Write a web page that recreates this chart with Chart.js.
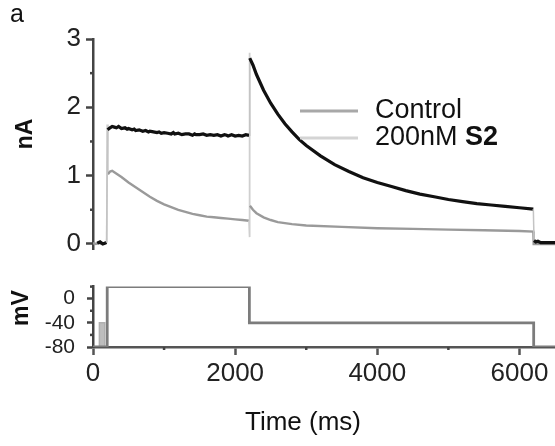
<!DOCTYPE html>
<html>
<head>
<meta charset="utf-8">
<script src="https://cdn.jsdelivr.net/npm/chart.js@4"></script>
<style>
  body { margin: 0; background: #fff; }
  #wrap { position: relative; width: 555px; height: 446px; }
  #top { position: absolute; left: 0; top: 0; }
  #bottom { position: absolute; left: 0; top: 262px; }
</style>
</head>
<body>
<div id="wrap">
  <canvas id="top" width="555" height="270"></canvas>
  <canvas id="bottom" width="555" height="184"></canvas>
</div>
<script>
// current traces (ms, nA)
const controlTime = [60, 100, 140, 190, 205, 240, 270, 300, 330, 360, 400, 450, 480, 500, 550, 580, 600, 650, 700, 740, 780,
  800, 850, 900, 930, 960, 1000, 1050, 1100, 1130, 1150, 1200, 1250, 1300, 1350, 1400, 1430, 1450, 1500, 1550, 1600, 1650, 1700, 1750,
  1800, 1850, 1880, 1900, 1950, 2000, 2050, 2100, 2150, 2195, 2205, 2250, 2300, 2400, 2500, 2600, 2700, 2800, 2900, 3000,
  3200, 3400, 3600, 3800, 4000, 4200, 4400, 4600, 4800, 5000, 5200, 5400, 5600, 5800, 6000, 6195, 6205, 6230, 6260, 6300, 6500];
const controlCurrent = [0.01, 0.03, 0.0, 0.02, 1.67, 1.70, 1.72, 1.71, 1.70, 1.72, 1.69, 1.70, 1.68, 1.69, 1.67, 1.68, 1.66, 1.67, 1.65, 1.66, 1.64,
  1.65, 1.64, 1.63, 1.64, 1.62, 1.63, 1.62, 1.61, 1.63, 1.61, 1.62, 1.60, 1.61, 1.61, 1.59, 1.61, 1.60, 1.60, 1.61, 1.59, 1.60, 1.59, 1.60,
  1.58, 1.60, 1.59, 1.58, 1.60, 1.58, 1.59, 1.58, 1.60, 1.59, 2.72, 2.62, 2.48, 2.25, 2.06, 1.90, 1.76, 1.64, 1.53, 1.44,
  1.29, 1.16, 1.06, 0.97, 0.90, 0.84, 0.78, 0.73, 0.69, 0.65, 0.62, 0.59, 0.57, 0.55, 0.53, 0.51, 0.05, 0.03, 0.04, 0.02, 0.02];

const s2Time = [0, 40, 80, 120, 160, 195, 200, 210, 240, 270, 300, 400, 500, 600, 700, 800, 900, 1000, 1100, 1200,
  1300, 1400, 1500, 1600, 1700, 1800, 1900, 2000, 2100, 2195, 2200, 2203, 2208, 2250, 2300, 2400, 2500, 2600, 2800,
  3000, 3500, 4000, 4500, 5000, 5500, 6000, 6195, 6200, 6500];
const s2Current = [0.01, 0.0, 0.02, 0.0, 0.01, 0.02, 1.75, 1.02, 1.06, 1.07, 1.05, 0.98, 0.90, 0.83, 0.76, 0.69, 0.63, 0.58, 0.54, 0.50,
  0.47, 0.44, 0.42, 0.40, 0.39, 0.38, 0.37, 0.36, 0.35, 0.34, 2.8, 0.1, 0.56, 0.50, 0.45, 0.39, 0.35, 0.32, 0.29,
  0.27, 0.25, 0.23, 0.22, 0.21, 0.20, 0.19, 0.18, 0.0, 0.0];

// voltage protocol (ms, mV)
const stepTime = [0, 200, 200, 2200, 2200, 6200, 6200, 6500];
const stepLevel = [-80, -80, 20, 20, -40, -40, -80, -80];
const prepulseTime = [90, 90, 165, 165];
const prepulseLevel = [-80, -40, -40, -80];

// axes
const timeTicks = [0, 2000, 4000, 6000];
const timeMinor = [1000, 3000, 5000];
const currentTicks = [0, 1, 2, 3];
const currentMinor = [0.5, 1.5, 2.5];
const voltTicks = [-80, -40, 0];
const voltMinor = [-60, -20, 20];

const labels = ['Control', '200nM S2'];

const FONT = '"Liberation Sans", Arial, sans-serif';
Chart.defaults.font.family = FONT;
Chart.defaults.color = '#222';

function pts(xs, ys) {
  return xs.map(function (x, i) { return { x: x, y: ys[i] }; });
}

// fast jumps (capacity transients) look faint in the recording
function jumpColor(light) {
  return function (ctx) {
    return Math.abs(ctx.p1.parsed.y - ctx.p0.parsed.y) > 0.4 ? light : undefined;
  };
}
function jumpWidth(w) {
  return function (ctx) {
    return Math.abs(ctx.p1.parsed.y - ctx.p0.parsed.y) > 0.4 ? w : undefined;
  };
}

// short minor tick marks drawn through the chart's own scales
const minorTicks = {
  id: 'minorTicks',
  afterDraw(chart, args, opts) {
    const ctx = chart.ctx;
    ctx.save();
    ctx.strokeStyle = '#444';
    ctx.lineWidth = 2.5;
    (opts.list || []).forEach(function (m) {
      const scale = chart.scales[m.scale];
      m.values.forEach(function (v) {
        const p = scale.getPixelForValue(v);
        ctx.beginPath();
        if (m.scale === 'y') {
          ctx.moveTo(scale.right - 3, p);
          ctx.lineTo(scale.right, p);
        } else {
          ctx.moveTo(p, scale.top);
          ctx.lineTo(p, scale.top + 3);
        }
        ctx.stroke();
      });
    });
    ctx.restore();
  }
};

// free text: panel letter, axis names, legend
const panelText = {
  id: 'panelText',
  afterDraw(chart, args, opts) {
    const ctx = chart.ctx;
    ctx.save();
    ctx.textBaseline = 'middle';
    (opts.items || []).forEach(function (t) {
      ctx.save();
      ctx.font = t.font;
      ctx.fillStyle = '#111';
      ctx.textAlign = t.align || 'center';
      ctx.translate(t.x, t.y);
      if (t.rotate) ctx.rotate(t.rotate);
      ctx.fillText(t.text, 0, 0);
      ctx.restore();
    });
    (opts.legend || []).forEach(function (l, i) {
      const label = chart.data.datasets[i].label;
      ctx.strokeStyle = l.color;
      ctx.lineWidth = 3;
      ctx.beginPath();
      ctx.moveTo(l.x, l.y);
      ctx.lineTo(l.x + 58, l.y);
      ctx.stroke();
      ctx.fillStyle = '#111';
      ctx.textAlign = 'left';
      let x = l.x + 75;
      const bold = l.bold || '';
      const plain = bold ? label.slice(0, label.length - bold.length) : label;
      ctx.font = '27px ' + FONT;
      ctx.fillText(plain, x, l.y);
      if (bold) {
        x += ctx.measureText(plain).width;
        ctx.font = 'bold 27px ' + FONT;
        ctx.fillText(bold, x, l.y);
      }
    });
    ctx.restore();
  }
};

const topChart = new Chart(document.getElementById('top'), {
  type: 'line',
  data: {
    datasets: [{
      label: labels[0],
      data: pts(controlTime, controlCurrent),
      borderColor: '#111',
      borderWidth: 3.2,
      pointRadius: 0,
      segment: { borderColor: jumpColor('#c4c4c4'), borderWidth: jumpWidth(1.5) }
    }, {
      label: labels[1],
      data: pts(s2Time, s2Current),
      borderColor: '#9a9a9a',
      borderWidth: 2.4,
      pointRadius: 0,
      segment: { borderColor: jumpColor('#cfcfcf'), borderWidth: jumpWidth(1.8) }
    }]
  },
  plugins: [minorTicks, panelText],
  options: {
    responsive: false,
    animation: false,
    layout: { padding: { top: 39, bottom: 5.6, left: 0, right: 0 } },
    plugins: {
      legend: { display: false },
      tooltip: { enabled: false },
      minorTicks: { list: [{ scale: 'y', values: currentMinor }] },
      panelText: {
        items: [
          { text: 'a', x: 17, y: 15, font: '25px ' + FONT },
          { text: 'nA', x: 26, y: 134, font: 'bold 23px ' + FONT, rotate: -Math.PI / 2 }
        ],
        legend: [
          { x: 300, y: 111, color: '#a8a8a8' },
          { x: 300, y: 138, color: '#d4d4d4', bold: 'S2' }
        ]
      }
    },
    scales: {
      x: { type: 'linear', min: 0, max: 6500, display: false },
      y: {
        min: -0.08,
        max: 3,
        afterBuildTicks: function (scale) {
          scale.ticks = currentTicks.map(function (v) { return { value: v }; });
        },
        afterFit: function (scale) { scale.width = 93; },
        border: { display: true, color: '#444', width: 2.5 },
        grid: { drawOnChartArea: false, tickLength: 7, tickColor: '#444', tickWidth: 2.5 },
        ticks: { padding: 5, color: '#222', font: { size: 26 } }
      }
    }
  }
});

const bottomChart = new Chart(document.getElementById('bottom'), {
  type: 'line',
  data: {
    datasets: [{
      label: 'Voltage',
      data: pts(stepTime, stepLevel),
      borderColor: '#7c7c7c',
      borderWidth: 2.8,
      pointRadius: 0
    }, {
      label: 'Prepulse',
      data: pts(prepulseTime, prepulseLevel),
      borderColor: '#b0b0b0',
      backgroundColor: '#bdbdbd',
      borderWidth: 1.5,
      fill: { value: -80 },
      pointRadius: 0
    }]
  },
  plugins: [minorTicks, panelText],
  options: {
    responsive: false,
    animation: false,
    layout: { padding: { top: 19, bottom: 0, left: 0, right: 0 } },
    plugins: {
      legend: { display: false },
      tooltip: { enabled: false },
      minorTicks: { list: [{ scale: 'y', values: voltMinor }, { scale: 'x', values: timeMinor }] },
      panelText: {
        items: [
          { text: 'mV', x: 22, y: 46, font: 'bold 23px ' + FONT, rotate: -Math.PI / 2 },
          { text: 'Time (ms)', x: 303, y: 161, font: '26px ' + FONT }
        ]
      }
    },
    scales: {
      x: {
        type: 'linear',
        min: 0,
        max: 6500,
        afterBuildTicks: function (scale) {
          scale.ticks = timeTicks.map(function (v) { return { value: v }; });
        },
        afterFit: function (scale) { scale.height = 99; },
        border: { display: true, color: '#555', width: 2.5 },
        grid: { drawOnChartArea: false, tickLength: 8, tickColor: '#555', tickWidth: 2.5 },
        ticks: {
          padding: 3, color: '#222', font: { size: 26 }, maxRotation: 0,
          callback: function (v) { return String(v); }
        }
      },
      y: {
        min: -80,
        max: 20,
        afterBuildTicks: function (scale) {
          scale.ticks = voltTicks.map(function (v) { return { value: v }; });
        },
        afterFit: function (scale) { scale.width = 93; },
        border: { display: true, color: '#444', width: 2.5 },
        grid: { drawOnChartArea: false, tickLength: 6, tickColor: '#444', tickWidth: 2.5 },
        ticks: { padding: 12, color: '#222', font: { size: 21 } }
      }
    }
  }
});
</script>
</body>
</html>
